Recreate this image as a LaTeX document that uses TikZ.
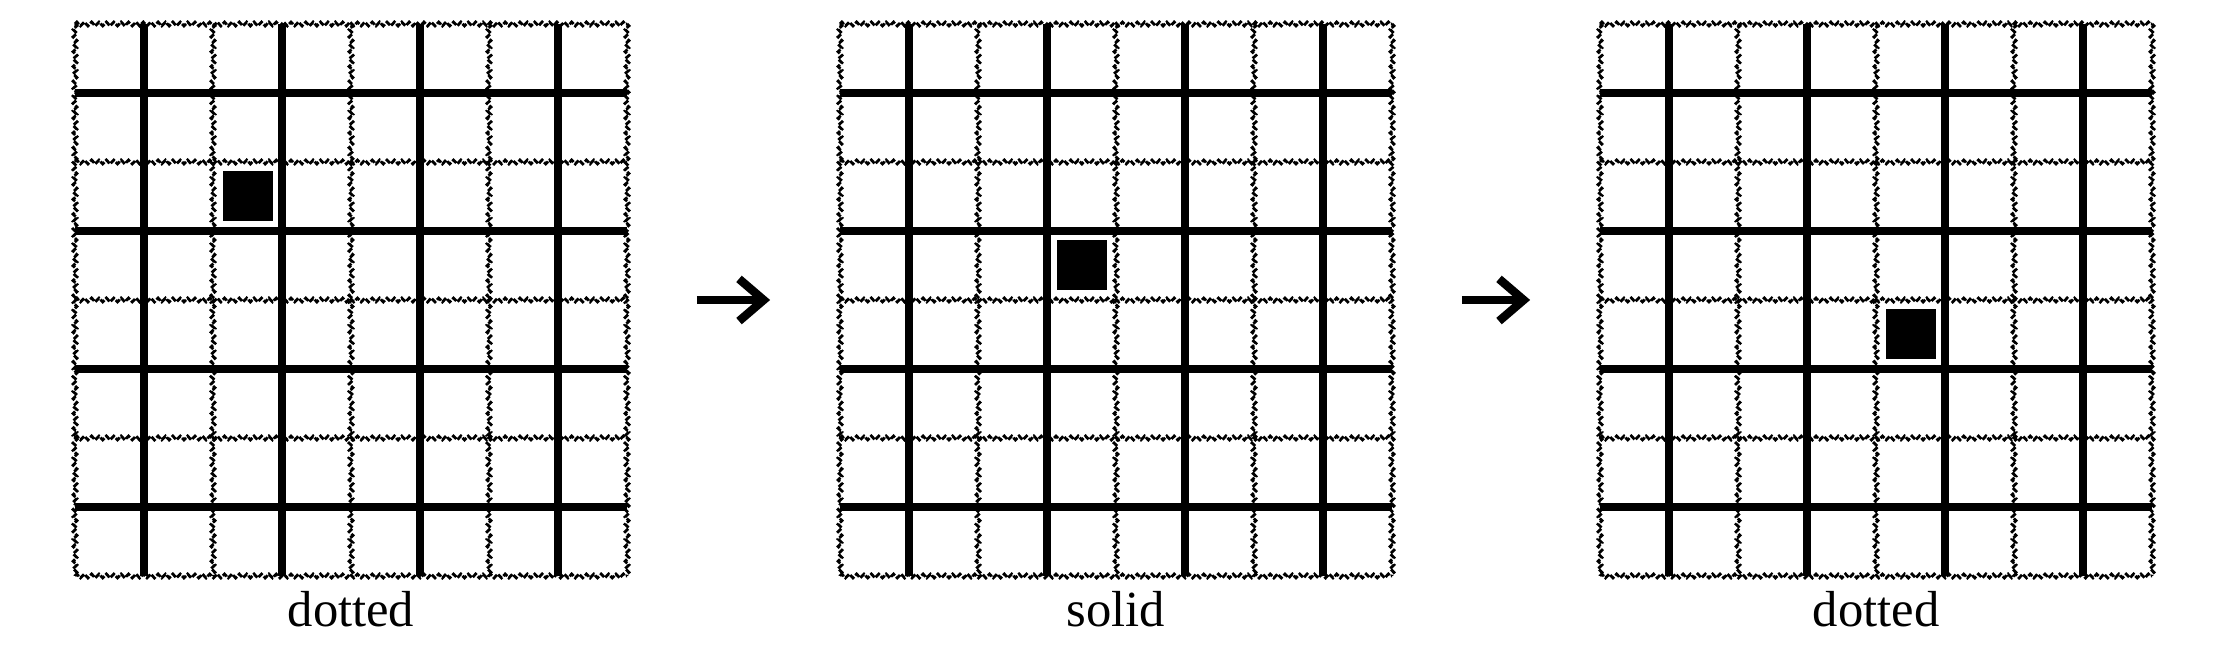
\documentclass[tikz,border=0pt]{standalone}
\usepackage{fontspec}
\setmainfont{Liberation Serif}
\usetikzlibrary{positioning,arrows.meta,decorations.pathmorphing}

\begin{document}
\begin{tikzpicture}[
  x=0.01cm, y=-0.01cm,
  font=\fontsize{14.4}{17}\selectfont,
  panel/.style={rectangle, inner sep=0pt, minimum width=5.52cm, minimum height=5.52cm},
  thickline/.style={line width=2.1pt},
  dotline/.style={line width=0.8pt, decorate,
    decoration={zigzag, amplitude=0.55pt, segment length=2.1pt},
    dash pattern=on 1.6pt off 0.5pt},
  marker/.style={fill=black},
  >={Straight Barb[length=7pt,width=12pt]}
]
\useasboundingbox (0,0) rectangle (2234,668);

\foreach \px/\sq/\lab [count=\i] in {75/2/dotted, 840/3/solid, 1600/4/dotted} {
  \node[panel] (g\i) at (\px+276,300) {};
  % fine grid lines and border
  \foreach \k in {0,2,...,8} {
    \draw[dotline] (\px+69*\k,24) -- (\px+69*\k,576);
    \draw[dotline] (\px,24+69*\k) -- (\px+552,24+69*\k);
  }
  % coarse grid lines
  \foreach \k in {1,3,5,7} {
    \draw[thickline] (\px+69*\k,24) -- (\px+69*\k,576);
    \draw[thickline] (\px,24+69*\k) -- (\px+552,24+69*\k);
  }
  \fill[marker] (\px+69*\sq+9.5,24+69*\sq+9.5) rectangle ++(50,50);
  \node[anchor=base] (l\i) at (\px+276,627) {\lab};
}

\draw[->, line width=2.4pt, shorten <=0.69cm, shorten >=0.69cm] (g1) -- (g2);
\draw[->, line width=2.4pt, shorten <=0.69cm, shorten >=0.69cm] (g2) -- (g3);
\end{tikzpicture}
\end{document}
